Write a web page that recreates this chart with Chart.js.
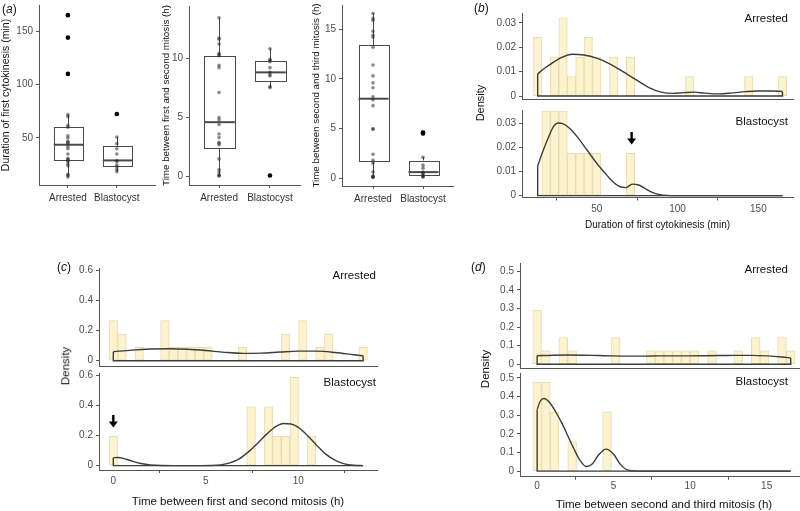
<!DOCTYPE html>
<html><head><meta charset="utf-8">
<script src="https://cdn.jsdelivr.net/npm/chart.js@4/dist/chart.umd.min.js"></script>
<style>
html,body{margin:0;padding:0;background:#fff;width:800px;height:511px;overflow:hidden;position:relative;font-family:"Liberation Sans",Arial,Helvetica,sans-serif;}
.t{position:absolute;white-space:nowrap;line-height:1;color:#111;}
</style></head><body>
<script>
// ---------------- DATA ----------------
const groups = ['Arrested', 'Blastocyst'];

// (a) Duration of first cytokinesis (min): individual embryos
const cytoArrested = [13.5,15,16,24,26,28.5,29,30,31,35,40,42,45,46,47,50,52,60,62,70,72,110,144,165];
const cytoBlastocyst = [18.5,20.5,23,25,28,29,35,40,44.8,51,72.5];
// box stats: [lower whisker, Q1, median, Q3, upper whisker]
const cytoBoxArrested = [13.5,29,43.7,60.3,72];
const cytoBoxBlastocyst = [18.5,24,29,42.4,51];
const cytoOutArrested = [110,144,165];
const cytoOutBlastocyst = [72.5];

// Time between first and second mitosis (h)
const m12Arrested = [0.05,0.1,0.15,0.4,0.6,1.5,2.7,2.8,2.9,3.3,3.6,4.4,4.8,5.0,7.1,9.2,9.4,10.2,10.3,10.4,11.2,11.6,11.7,13.4];
const m12Blastocyst = [0.1,7.5,7.6,8.5,8.6,8.8,9.2,9.7,9.8,9.9,10.8];
const m12BoxArrested = [0.05,2.45,4.6,10.2,13.4];
const m12BoxBlastocyst = [7.5,8.05,8.8,9.75,10.8];
const m12OutArrested = [];
const m12OutBlastocyst = [0.1];

// Time between second and third mitosis (h)
const m23Arrested = [0.05,0.1,0.15,0.2,0.6,1.5,1.8,2.4,4.9,5.0,7.3,7.9,8.2,9.1,9.6,10.3,11.4,13.2,14.2,14.4,14.8,15.9,16.1,16.6];
const m23Blastocyst = [0.1,0.15,0.2,0.4,0.5,0.6,1.0,1.3,2.1,4.5,4.6];
const m23BoxArrested = [0.05,1.75,8.0,13.4,16.6];
const m23BoxBlastocyst = [0.1,0.38,0.6,1.75,2.1];
const m23OutArrested = [];
const m23OutBlastocyst = [4.5,4.6];

// (b) histogram bin centres and densities
const binsCyto = [13.5,18.7,23.9,29.2,34.4,39.6,44.8,50.0,55.3,60.5,65.7,70.9,76.1,81.4,86.6,91.8,97.0,102.2,107.5,112.7,117.9,123.1,128.4,133.6,138.8,144.0,149.2,154.5,159.7,164.9];
const histCytoArrested = [0.024,0,0.016,0.032,0.008,0.016,0.024,0.016,0,0.016,0,0.016,0,0,0,0,0,0,0.008,0,0,0,0,0,0,0.008,0,0,0,0.008];
const histCytoBlastocyst = [0,0.0352,0.0352,0.0352,0.0176,0.0176,0.0176,0.0176,0,0,0,0.0176,0,0,0,0,0,0,0,0,0,0,0,0,0,0,0,0,0,0];
const kdeCytoArrestedX = [13.5,18,22,28,35,42,50,58,66,74,82,90,97,104,110,117,125,133,142,150,158,164.9];
const kdeCytoArrestedY = [0.0091,0.0115,0.0133,0.0157,0.0171,0.0168,0.0155,0.0132,0.0101,0.0068,0.0036,0.0016,0.0011,0.0014,0.0016,0.0012,0.0009,0.0012,0.0018,0.0021,0.0021,0.0019];
const kdeCytoBlastX = [13.5,17,20,23,26,29,33,38,44,50,55,60,64,68,72,76,81,86,91,96,130,164.9];
const kdeCytoBlastY = [0.0124,0.019,0.024,0.0285,0.0303,0.030,0.0282,0.0245,0.019,0.0135,0.0095,0.0058,0.0038,0.0033,0.0048,0.0044,0.0025,0.0009,0.0002,0,0,0];

// (c) first -> second mitosis
const binsM12 = [0,0.47,0.93,1.40,1.86,2.33,2.79,3.26,3.72,4.19,4.66,5.12,5.59,6.05,6.52,6.98,7.45,7.91,8.38,8.84,9.31,9.78,10.24,10.71,11.17,11.64,12.10,12.57,13.03,13.50];
const histM12Arrested = [0.267,0.178,0,0.089,0,0,0.267,0.089,0.089,0.089,0.089,0.089,0,0,0,0.089,0,0,0,0,0.178,0,0.267,0,0.089,0.178,0,0,0,0.089];
const histM12Blastocyst = [0.196,0,0,0,0,0,0,0,0,0,0,0,0,0,0,0,0.393,0,0.393,0.196,0.196,0.589,0,0.196,0,0,0,0,0,0];
const kdeM12ArrestedX = [0,1,2,3,4,5,6,7,8,9,10,11,12,13,13.5];
const kdeM12ArrestedY = [0.060,0.071,0.078,0.080,0.077,0.068,0.056,0.049,0.051,0.058,0.064,0.064,0.055,0.040,0.033];
const kdeM12BlastX = [0,0.25,0.7,1.1,1.5,2,2.6,3.5,4.5,5.3,5.8,6.3,6.8,7.3,7.8,8.3,8.8,9.2,9.6,10.0,10.5,11.0,11.5,12.0,12.5,13.0,13.5];
const kdeM12BlastY = [0.053,0.054,0.043,0.027,0.014,0.005,0.001,0,0,0.001,0.005,0.018,0.045,0.092,0.150,0.212,0.262,0.281,0.278,0.255,0.200,0.135,0.075,0.035,0.012,0.003,0];

// (d) second -> third mitosis
const binsM23 = [0,0.57,1.14,1.71,2.29,2.86,3.43,4.00,4.57,5.14,5.71,6.29,6.86,7.43,8.00,8.57,9.14,9.71,10.29,10.86,11.43,12.00,12.57,13.14,13.71,14.28,14.86,15.43,16.00,16.57];
const histM23Arrested = [0.29,0.072,0,0.144,0.072,0,0,0,0,0.144,0,0,0,0.072,0.072,0.072,0.072,0.072,0.072,0,0.072,0,0,0.072,0,0.144,0.072,0,0.144,0.072];
const histM23Blastocyst = [0.477,0.477,0.318,0,0.159,0,0,0,0.318,0,0,0,0,0,0,0,0,0,0,0,0,0,0,0,0,0,0,0,0,0];
const kdeM23ArrestedX = [0,1,2,3,4,5,6,7,8,9,10,11,12,13,14,15,16,16.57];
const kdeM23ArrestedY = [0.046,0.049,0.050,0.049,0.047,0.045,0.044,0.044,0.045,0.045,0.045,0.046,0.047,0.048,0.048,0.045,0.039,0.034];
const kdeM23BlastX = [0,0.2,0.45,0.8,1.2,1.6,2.0,2.4,2.8,3.2,3.6,4.0,4.5,5.0,5.4,5.8,6.3,7,12,16.57];
const kdeM23BlastY = [0.33,0.375,0.39,0.37,0.32,0.26,0.19,0.12,0.058,0.025,0.038,0.085,0.118,0.09,0.04,0.01,0.001,0,0,0];

// tick values
const ticksCytoA = [50,100,150];
const ticksM12A = [0,5,10];
const ticksM23A = [0,5,10,15];
const ticksDensB = [0,0.01,0.02,0.03];
const ticksDensC = [0,0.2,0.4,0.6];
const ticksDensD = [0,0.1,0.2,0.3,0.4,0.5];
const ticksXB = [50,100,150];
const ticksXC = [0,5,10];
const ticksXD = [0,5,10,15];

// ---------------- DRAWING ----------------
Chart.defaults.font.family = "'Liberation Sans', Arial, Helvetica, sans-serif";
Chart.defaults.color = '#4d4d4d';
const AX = '#555';
const CURVE = '#3d3d3d';

function mkCanvas(r){
  const c = document.createElement('canvas');
  c.width = r[2]; c.height = r[3];
  Object.assign(c.style,{position:'absolute',left:r[0]+'px',top:r[1]+'px',width:r[2]+'px',height:r[3]+'px'});
  document.body.appendChild(c);
  return c;
}
function layoutFor(cv, pl){ return {padding:{left:0,bottom:0,top:pl[1]-cv[1],right:cv[0]+cv[2]-pl[2]}}; }
function fitW(w){ return s=>{ s.width=w; s.paddingLeft=0; s.paddingRight=0; s.paddingTop=0; s.paddingBottom=0; }; }
function fitH(h){ return s=>{ s.height=h; s.paddingLeft=0; s.paddingRight=0; s.paddingTop=0; s.paddingBottom=0; }; }
function setTicks(arr){ return s=>{ s.ticks = arr.map(v=>({value:v})); }; }

const boxPlugin = {
  id:'boxes',
  beforeDatasetsDraw(chart, args, opts){
    if (!opts || !opts.stats) return;
    const {ctx, scales:{x, y}} = chart;
    ctx.save();
    ctx.strokeStyle = '#4a4a4a';
    opts.stats.forEach((s, i) => {
      const cx = Math.round(x.getPixelForValue(i+1)) + 0.5;
      const hw = (x.getPixelForValue(i+1+opts.width/2) - x.getPixelForValue(i+1-opts.width/2))/2;
      const [lo,q1,med,q3,hi] = s.map(v => y.getPixelForValue(v));
      ctx.lineWidth = 1;
      ctx.beginPath(); ctx.moveTo(cx,q3); ctx.lineTo(cx,hi); ctx.moveTo(cx,q1); ctx.lineTo(cx,lo); ctx.stroke();
      ctx.fillStyle = '#fff';
      ctx.fillRect(cx-hw, q3, 2*hw, q1-q3);
      ctx.strokeRect(Math.round(cx-hw)+0.5, Math.round(q3)+0.5, Math.round(2*hw), Math.round(q1-q3));
      ctx.lineWidth = 2;
      ctx.beginPath(); ctx.moveTo(cx-hw, med); ctx.lineTo(cx+hw, med); ctx.stroke();
    });
    ctx.restore();
  }
};
const arrowPlugin = {
  id:'arrow',
  afterDatasetsDraw(chart, args, opts){
    if (!opts || opts.x === undefined) return;
    const {ctx, scales:{x, y}} = chart;
    const px = x.getPixelForValue(opts.x), y0 = y.getPixelForValue(opts.yTop), y1 = y.getPixelForValue(opts.yBottom);
    ctx.save();
    ctx.strokeStyle = '#000'; ctx.fillStyle = '#000'; ctx.lineWidth = 2.4;
    ctx.beginPath(); ctx.moveTo(px, y0); ctx.lineTo(px, y1-4); ctx.stroke();
    ctx.beginPath(); ctx.moveTo(px-4.5, y1-5.5); ctx.lineTo(px+4.5, y1-5.5); ctx.lineTo(px, y1+0.5); ctx.closePath(); ctx.fill();
    ctx.restore();
  }
};

function baseOpts(cv, pl){
  return {responsive:false, devicePixelRatio:1, animation:false, layout:layoutFor(cv,pl),
    plugins:{legend:{display:false}, tooltip:{enabled:false}}};
}

function boxChart(o){
  const c = mkCanvas(o.cv);
  const ds = [];
  o.pts.forEach((arr,i)=>ds.push({data:arr.map(v=>({x:i+1,y:v})), pointRadius:1.8, pointBackgroundColor:'rgba(40,40,40,0.55)', pointBorderWidth:0, order:2}));
  o.outl.forEach((arr,i)=>ds.push({data:arr.map(v=>({x:i+1,y:v})), pointRadius:2.3, pointBackgroundColor:'#000', pointBorderWidth:0, order:1}));
  const opts = baseOpts(o.cv, o.pl);
  opts.plugins.boxes = {stats:o.box, width:0.6};
  opts.scales = {
    x:{type:'linear', min:o.xr[0], max:o.xr[1], afterFit:fitH(o.cv[1]+o.cv[3]-o.pl[3]), afterBuildTicks:setTicks([1,2]),
       ticks:{callback:(v,i)=>groups[i], color:'#333', font:{size:10}, padding:4, maxRotation:0, autoSkip:false},
       grid:{drawOnChartArea:false, drawTicks:true, tickLength:3, color:AX}, border:{color:AX}},
    y:{type:'linear', min:o.yr[0], max:o.yr[1], afterFit:fitW(o.pl[0]-o.cv[0]), afterBuildTicks:setTicks(o.yTicks),
       ticks:{callback:v=>String(v), color:'#4d4d4d', font:{size:10}, padding:3, autoSkip:false},
       grid:{drawOnChartArea:false, drawTicks:true, tickLength:3, color:AX}, border:{color:AX},
       title:{display:true, text:o.title, color:'#111', font:{size:o.tsize}, padding:0}}
  };
  new Chart(c, {type:'scatter', data:{datasets:ds}, plugins:[boxPlugin], options:opts});
}

function histChart(o){
  const c = mkCanvas(o.cv);
  const last = o.kx.length-1;
  const ds = [
    {type:'bar', data:o.bins.map((x,i)=>({x:x, y:o.h[i]})), backgroundColor:'rgba(253,243,202,0.9)', borderColor:'rgba(230,220,178,0.95)',
     borderWidth:ctx=>(ctx.raw && ctx.raw.y>0)?1:0, borderSkipped:false, barPercentage:1, categoryPercentage:1, grouped:false, order:3},
    {type:'line', data:o.kx.map((x,i)=>({x:x, y:o.ky[i]})), borderColor:CURVE, borderWidth:1.4, pointRadius:0, cubicInterpolationMode:'monotone', fill:false, order:1},
    {type:'line', data:[{x:o.kx[0],y:o.ky[0]},{x:o.kx[0],y:0},{x:o.kx[last],y:0},{x:o.kx[last],y:o.ky[last]}], borderColor:CURVE, borderWidth:1.4, pointRadius:0, tension:0, fill:false, order:2}
  ];
  const opts = baseOpts(o.cv, o.pl);
  if (o.arrow) opts.plugins.arrow = o.arrow;
  const xh = o.cv[1]+o.cv[3]-o.pl[3];
  const x = {type:'linear', offset:false, min:o.xr[0], max:o.xr[1], afterFit:fitH(xh), border:{color:AX}};
  if (o.xTicks){
    x.afterBuildTicks = setTicks(o.xTicks);
    x.ticks = {callback:v=>String(v), color:'#4d4d4d', font:{size:10}, padding:o.xPad, maxRotation:0, autoSkip:false};
    x.grid = {drawOnChartArea:false, drawTicks:true, tickLength:3, color:AX};
    x.title = {display:true, text:o.xTitle, color:'#111', font:{size:o.tsize}, padding:{top:0,bottom:o.tPad}};
  } else {
    x.ticks = {display:false};
    x.grid = {display:false};
  }
  opts.scales = {
    x: x,
    y:{type:'linear', min:o.yr[0], max:o.yr[1], afterFit:fitW(o.pl[0]-o.cv[0]), afterBuildTicks:setTicks(o.yTicks),
       ticks:{callback:v=>String(v), color:'#4d4d4d', font:{size:10}, padding:3, autoSkip:false},
       grid:{drawOnChartArea:false, drawTicks:true, tickLength:3, color:AX}, border:{color:AX}}
  };
  new Chart(c, {type:'bar', data:{datasets:ds}, plugins:[arrowPlugin], options:opts});
}

function addText(html, x, y, size, align, rotate){
  const d = document.createElement('div');
  d.className = 't';
  d.innerHTML = html;
  d.style.fontSize = size+'px';
  d.style.left = x+'px'; d.style.top = y+'px';
  const tx = align==='right' ? '-100%' : (align==='center' ? '-50%' : '0');
  d.style.transform = 'translate('+tx+',-50%)' + (rotate ? ' rotate(-90deg)' : '');
  document.body.appendChild(d);
}

// (a) box plots
boxChart({cv:[0,0,160,215], pl:[39,5,155,185], xr:[0.41,2.78], yr:[6,174.5], yTicks:ticksCytoA,
  pts:[cytoArrested,cytoBlastocyst], outl:[cytoOutArrested,cytoOutBlastocyst], box:[cytoBoxArrested,cytoBoxBlastocyst],
  title:'Duration of first cytokinesis (min)', tsize:10.5});
boxChart({cv:[160,0,145,215], pl:[189,6,300,185], xr:[0.41,2.59], yr:[-0.7,14.4], yTicks:ticksM12A,
  pts:[m12Arrested,m12Blastocyst], outl:[m12OutArrested,m12OutBlastocyst], box:[m12BoxArrested,m12BoxBlastocyst],
  title:'Time between first and second mitosis (h)', tsize:9.8});
boxChart({cv:[310,0,150,215], pl:[342,5,453,186], xr:[0.38,2.6], yr:[-0.8,17.45], yTicks:ticksM23A,
  pts:[m23Arrested,m23Blastocyst], outl:[m23OutArrested,m23OutBlastocyst], box:[m23BoxArrested,m23BoxBlastocyst],
  title:'Time between second and third mitosis (h)', tsize:9.8});

// (b)
histChart({cv:[440,0,360,104], pl:[522,13,793,99], xr:[3.8,171.4], yr:[-0.0012,0.034], yTicks:ticksDensB,
  bins:binsCyto, h:histCytoArrested, kx:kdeCytoArrestedX, ky:kdeCytoArrestedY});
histChart({cv:[440,104,360,130], pl:[522,110,793,197.5], xr:[3.8,171.4], yr:[-0.0008,0.0357], yTicks:ticksDensB,
  bins:binsCyto, h:histCytoBlastocyst, kx:kdeCytoBlastX, ky:kdeCytoBlastY,
  xTicks:ticksXB, xPad:3, xTitle:'Duration of first cytokinesis (min)', tsize:10, tPad:3,
  arrow:{x:71.6, yTop:0.0265, yBottom:0.0215}});

// (c)
histChart({cv:[0,262,400,106], pl:[99,268,377,366], xr:[-0.773,14.25], yr:[-0.035,0.618], yTicks:ticksDensC,
  bins:binsM12, h:histM12Arrested, kx:kdeM12ArrestedX, ky:kdeM12ArrestedY});
histChart({cv:[0,368,400,143], pl:[99,373,377,470], xr:[-0.773,14.25], yr:[-0.029,0.618], yTicks:ticksDensC,
  bins:binsM12, h:histM12Blastocyst, kx:kdeM12BlastX, ky:kdeM12BlastY,
  xTicks:ticksXC, xPad:2, xTitle:'Time between first and second mitosis (h)', tsize:11.5, tPad:2,
  arrow:{x:0, yTop:0.338, yBottom:0.258}});

// (d)
histChart({cv:[400,258,420,112], pl:[520,263,808,368], xr:[-1.12,17.7], yr:[-0.02,0.545], yTicks:ticksDensD,
  bins:binsM23, h:histM23Arrested, kx:kdeM23ArrestedX, ky:kdeM23ArrestedY});
histChart({cv:[400,370,420,142], pl:[520,373.3,808,476.7], xr:[-1.12,17.7], yr:[-0.03,0.525], yTicks:ticksDensD,
  bins:binsM23, h:histM23Blastocyst, kx:kdeM23BlastX, ky:kdeM23BlastY,
  xTicks:ticksXD, xPad:1, xTitle:'Time between second and third mitosis (h)', tsize:11.5, tPad:0});

// text annotations
addText('(<i>a</i>)', 2, 9, 12, 'left');
addText('(<i>b</i>)', 474, 8, 12, 'left');
addText('(<i>c</i>)', 57, 267, 12, 'left');
addText('(<i>d</i>)', 471, 267, 12, 'left');
addText('Density', 480, 103, 11, 'center', true);
addText('Density', 66, 366, 11.5, 'center', true);
addText('Density', 486, 369, 11.5, 'center', true);
addText('Arrested', 788, 19, 11.5, 'right');
addText('Blastocyst', 788, 122, 11.5, 'right');
addText('Arrested', 376, 276, 11.5, 'right');
addText('Blastocyst', 376, 383, 11.5, 'right');
addText('Arrested', 788, 270, 11.5, 'right');
addText('Blastocyst', 788, 382, 11.5, 'right');
</script>
</body></html>
